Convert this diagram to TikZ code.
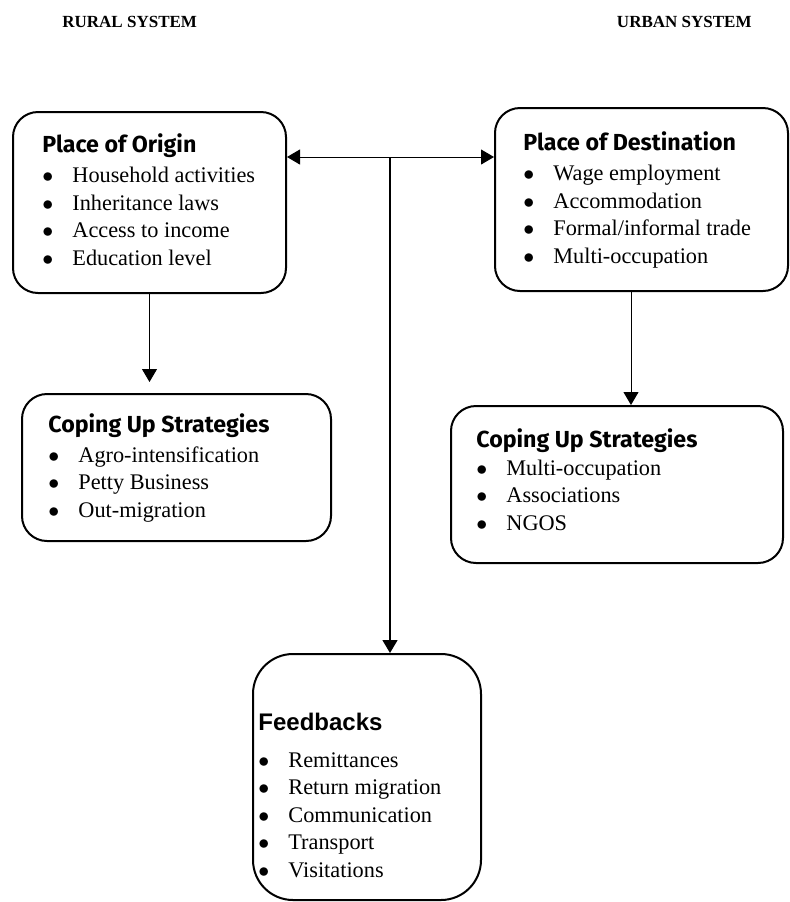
\documentclass[tikz,border=0pt]{standalone}
\usepackage{fontspec}
\setmainfont{Liberation Serif}
\newfontfamily\headsans{Fira Sans}
\newfontfamily\arialsans{Liberation Sans}
\usetikzlibrary{arrows.meta, positioning}
\tikzset{
  panel/.style={
    draw, line width=1pt,
    rounded corners=12.5pt,
    inner sep=0pt
  },
  panel text/.style={
    anchor=base west, align=left, inner sep=0pt,
    font=\fontsize{11.15}{13.75}\selectfont
  },
  link/.style={
    -{Triangle[length=6.5pt, width=7.5pt]},
    line width=0.5pt
  },
  sysname/.style={
    inner sep=0pt,
    font=\fontsize{8.5}{10}\selectfont\bfseries
  }
}
\newcommand{\bul}[1]{\makebox[15pt][l]{$\bullet$}#1}
\newcommand{\boxtitle}[1]{{\headsans\bfseries\fontsize{11.6}{13.75}\selectfont #1}}

\begin{document}
\begin{tikzpicture}[x=0.5pt, y=-0.5pt]
  \useasboundingbox (0,0) rectangle (790,902);

  % system names
  \node[sysname, anchor=base west] (rural) at (62,27) {RURAL SYSTEM};
  \node[sysname, anchor=base east] (urban) at (752,27) {URBAN SYSTEM};

  % boxes
  \node[panel, minimum width=136.5pt, minimum height=90.5pt] (origin) at (149.5,202.5) {};
  \node[panel, minimum width=146.5pt, minimum height=91.5pt] (dest) at (641.5,199.5) {};
  \node[panel, minimum width=154.5pt, minimum height=73.5pt] (ruralcope) at (176.5,467.5) {};
  \node[panel, minimum width=166pt, minimum height=78.5pt] (urbancope) at (617,484.5) {};
  \node[panel, rounded corners=20pt, minimum width=114pt, minimum height=123pt] (feedback) at (367,777) {};

  % box contents (placed by the baseline of their last line)
  \node[panel text] (originText) at (42,265) {\boxtitle{Place of Origin}\\[1.25pt]
    \bul{Household activities}\\ \bul{Inheritance laws}\\
    \bul{Access to income}\\ \bul{Education level}};
  \node[panel text] (destText) at (523,263) {\boxtitle{Place of Destination}\\[1.25pt]
    \bul{Wage employment}\\ \bul{Accommodation}\\
    \bul{Formal/informal trade}\\ \bul{Multi-occupation}};
  \node[panel text] (ruralText) at (48,517) {\boxtitle{Coping Up Strategies}\\[1.25pt]
    \bul{Agro-intensification}\\ \bul{Petty Business}\\ \bul{Out-migration}};
  \node[panel text] (urbanText) at (476,530) {\boxtitle{Coping Up Strategies}\\[0.25pt]
    \bul{Multi-occupation}\\ \bul{Associations}\\ \bul{NGOS}};
  \node[panel text] (feedText) at (258,877) {{\arialsans\bfseries\fontsize{12}{13.75}\selectfont Feedbacks}\\[4.75pt]
    \bul{Remittances}\\ \bul{Return migration}\\ \bul{Communication}\\
    \bul{Transport}\\ \bul{Visitations}};

  % connectors
  \coordinate (hub) at (390,157);
  \draw[link, {Triangle[length=6.5pt, width=7.5pt]}-{Triangle[length=6.5pt, width=7.5pt]}]
    (hub -| origin.east) -- (hub -| dest.west);
  \draw[link, line width=0.7pt] (hub) -- (hub |- feedback.north);
  \draw[link, shorten >=5.5pt] (origin.south) -- (origin.south |- ruralcope.north);
  \draw[link] ([xshift=-5.25pt]dest.south) -- ([xshift=-5.25pt]dest.south |- urbancope.north);
\end{tikzpicture}
\end{document}
